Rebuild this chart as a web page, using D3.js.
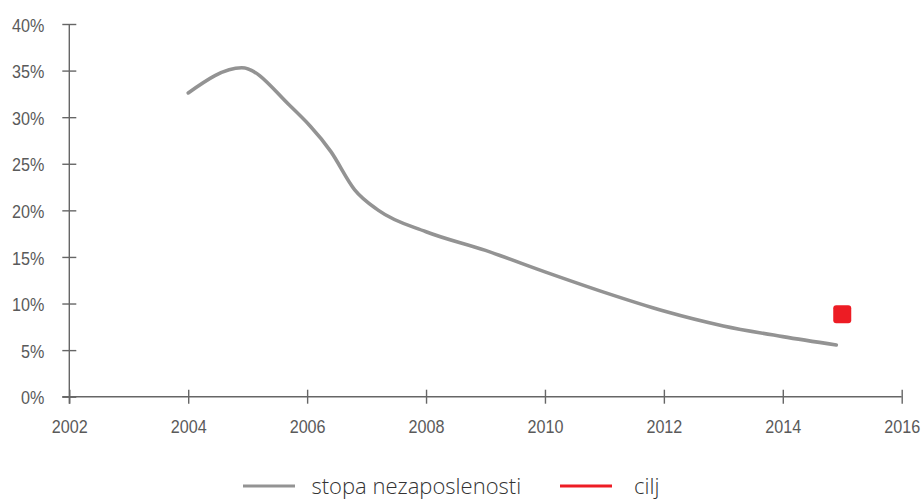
<!DOCTYPE html>
<html>
<head>
<meta charset="utf-8">
<script src="https://cdn.jsdelivr.net/npm/d3@7"></script>
<style>
  html, body { margin: 0; padding: 0; background: #fff; }
  svg { display: block; }
  .tick text { font-family: "Liberation Sans", Arial, sans-serif; font-size: 19px; fill: #5a5a5a; }
  .legend text { font-family: "Open Sans", "Noto Sans", sans-serif; font-weight: 300; font-size: 22px; fill: #333; }
</style>
</head>
<body>
<svg id="chart" width="922" height="499"></svg>
<script>
// Data
const years = [2004, 2004.9, 2005.7, 2006.4, 2006.8, 2007.2, 2008, 2009, 2010, 2011, 2012, 2013, 2014, 2014.9];
const unemployment = [32.6, 35.3, 31.3, 26.3, 22.2, 20.0, 17.7, 15.7, 13.4, 11.2, 9.2, 7.6, 6.45, 5.55];
const targetYear = [2015];
const targetValue = [8.84];
const xTicks = [2002, 2004, 2006, 2008, 2010, 2012, 2014, 2016];
const yTicks = [0, 5, 10, 15, 20, 25, 30, 35, 40];
const seriesNames = ["stopa nezaposlenosti", "cilj"];
const seriesColors = ["#939393", "#ed1c24"];

const svg = d3.select("#chart");
const x = d3.scaleLinear().domain([2002, 2016]).range([69.3, 901.7]);
const y = d3.scaleLinear().domain([0, 40]).range([396.7, 24]);

const axisColor = "#666";
const narrow = 0.85;

function condense(sel) {
  sel.each(function () {
    const w = this.getComputedTextLength();
    d3.select(this).attr("textLength", w * narrow).attr("lengthAdjust", "spacingAndGlyphs");
  });
}

// Y axis
const yAxis = svg.append("g")
  .attr("transform", `translate(${x(2002)},0)`)
  .call(d3.axisLeft(y).tickValues(yTicks).tickFormat(d => d + "%").tickSize(7).tickPadding(18));
yAxis.select(".domain").remove();
yAxis.selectAll(".tick line").attr("x2", 7).attr("x1", -7).attr("stroke", axisColor).attr("stroke-width", 1.4);
yAxis.selectAll(".tick text").attr("dy", "0.38em").call(condense);
yAxis.append("line").attr("x1", 0).attr("x2", 0).attr("y1", y(40)).attr("y2", y(0) + 7)
  .attr("stroke", axisColor).attr("stroke-width", 1.4);

// X axis
const xAxis = svg.append("g")
  .attr("transform", `translate(0,${y(0)})`)
  .call(d3.axisBottom(x).tickValues(xTicks).tickFormat(d3.format("d")).tickSize(7).tickPadding(16));
xAxis.select(".domain").remove();
xAxis.selectAll(".tick line").attr("y1", -7).attr("y2", 7).attr("stroke", axisColor).attr("stroke-width", 1.4);
xAxis.selectAll(".tick text").call(condense);
xAxis.append("line").attr("x1", x(2002) - 7).attr("x2", x(2016)).attr("y1", 0).attr("y2", 0)
  .attr("stroke", axisColor).attr("stroke-width", 1.4);

// Line
const pts = years.map((yr, i) => [yr, unemployment[i]]);
const line = d3.line().x(d => x(d[0])).y(d => y(d[1])).curve(d3.curveMonotoneX);
svg.append("path").datum(pts)
  .attr("d", line)
  .attr("fill", "none")
  .attr("stroke", seriesColors[0])
  .attr("stroke-width", 3.6)
  .attr("stroke-linecap", "round");

// Target marker
const sz = 18;
svg.selectAll("rect.target").data(targetYear.map((yr, i) => [yr, targetValue[i]]))
  .enter().append("rect")
  .attr("class", "target")
  .attr("x", d => x(d[0]) - sz / 2)
  .attr("y", d => y(d[1]) - sz / 2)
  .attr("width", sz).attr("height", sz)
  .attr("rx", 3).attr("ry", 3)
  .attr("fill", seriesColors[1]);

// Legend
const legend = svg.append("g").attr("class", "legend");
const legendItems = [
  { name: seriesNames[0], color: seriesColors[0], x0: 243, tx: 311.5 },
  { name: seriesNames[1], color: seriesColors[1], x0: 560, tx: 634 }
];
legendItems.forEach(it => {
  legend.append("line")
    .attr("x1", it.x0).attr("x2", it.x0 + 52)
    .attr("y1", 486).attr("y2", 486)
    .attr("stroke", it.color).attr("stroke-width", 3);
  legend.append("text")
    .attr("x", it.tx).attr("y", 494)
    .text(it.name);
});
</script>
</body>
</html>
